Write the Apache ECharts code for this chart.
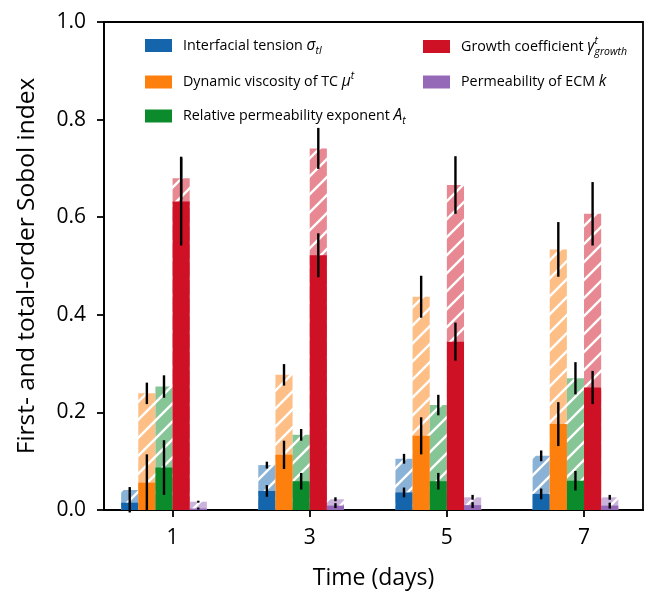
<!DOCTYPE html>
<html>
<head>
<meta charset="utf-8">
<script src="https://cdn.jsdelivr.net/npm/echarts@6/dist/echarts.min.js"></script>
<style>
html, body { margin: 0; padding: 0; background: #fff; }
#box { width: 653px; height: 591px; }
</style>
</head>
<body>
<div id="box"></div>
<script>
const days = [1, 3, 5, 7];
const paramNames = ['Interfacial tension', 'Dynamic viscosity of TC', 'Relative permeability exponent', 'Growth coefficient', 'Permeability of ECM'];
const paramSymbols = ['{i|σ}{sub|tl}', '{i|μ}{sup|t}', '{i|A}{sub|t}', '{i|γ}{supz|t}{sub|growth}', '{i|k}'];
const colors = ['#1565ad', '#fd7f0e', '#0b8b2c', '#cf1126', '#9669b8'];

// first-order indices, one row per parameter
const firstOrder = [
    [0.015, 0.039, 0.036, 0.033],
    [0.056, 0.113, 0.152, 0.176],
    [0.087, 0.059, 0.059, 0.060],
    [0.632, 0.522, 0.345, 0.251],
    [0.003, 0.009, 0.010, 0.009]
];
const firstErr = [
    [0.020, 0.012, 0.010, 0.011],
    [0.058, 0.029, 0.038, 0.045],
    [0.056, 0.017, 0.017, 0.020],
    [0.090, 0.045, 0.039, 0.034],
    [0.002, 0.005, 0.006, 0.006]
];
// total-order indices
const totalOrder = [
    [0.041, 0.092, 0.105, 0.111],
    [0.239, 0.277, 0.437, 0.534],
    [0.253, 0.154, 0.215, 0.270],
    [0.680, 0.741, 0.666, 0.607],
    [0.017, 0.022, 0.026, 0.026]
];
const totalErr = [
    [0.006, 0.007, 0.010, 0.011],
    [0.022, 0.022, 0.043, 0.056],
    [0.023, 0.012, 0.021, 0.033],
    [0.044, 0.042, 0.059, 0.065],
    [0.002, 0.004, 0.005, 0.005]
];

const FONT = 'Open Sans';
const barW = 0.25;

function lighten(hex, a) {
    const n = parseInt(hex.slice(1), 16);
    const c = [n >> 16, (n >> 8) & 255, n & 255].map(v => Math.round(v * a + 255 * (1 - a)));
    return 'rgb(' + c.join(',') + ')';
}

function hatch(color) {
    const s = 18;
    const cv = document.createElement('canvas');
    cv.width = s; cv.height = s;
    const g = cv.getContext('2d');
    g.fillStyle = lighten(color, 0.5);
    g.fillRect(0, 0, s, s);
    g.strokeStyle = '#fff';
    g.lineWidth = 2.4;
    g.beginPath();
    g.moveTo(-s, s); g.lineTo(s, -s);
    g.moveTo(0, s); g.lineTo(s, 0);
    g.moveTo(0, 2 * s); g.lineTo(2 * s, 0);
    g.stroke();
    return { image: cv, repeat: 'repeat' };
}

function barRender(fill) {
    return function (p, api) {
        const x = api.value(0), v = api.value(1);
        const a = api.coord([x - barW / 2, 0]);
        const b = api.coord([x + barW / 2, v]);
        return {
            type: 'rect',
            shape: { x: a[0], y: b[1], width: b[0] - a[0], height: a[1] - b[1] },
            style: { fill: fill }
        };
    };
}

const series = [];
const errData = [];
paramNames.forEach((name, i) => {
    const off = (i - 2.5) * barW;
    series.push({
        name: name + ' total',
        type: 'custom',
        z: 2,
        silent: true,
        encode: { x: 0, y: 1 },
        data: days.map((d, j) => [d + off, totalOrder[i][j]]),
        renderItem: barRender(hatch(colors[i]))
    });
    series.push({
        name: name,
        type: 'custom',
        z: 3,
        silent: true,
        itemStyle: { color: colors[i] },
        encode: { x: 0, y: 1 },
        data: days.map((d, j) => [d + off, firstOrder[i][j]]),
        renderItem: barRender(colors[i])
    });
    days.forEach((d, j) => {
        errData.push([d + off, totalOrder[i][j] - totalErr[i][j], totalOrder[i][j] + totalErr[i][j]]);
        errData.push([d + off, firstOrder[i][j] - firstErr[i][j], firstOrder[i][j] + firstErr[i][j]]);
    });
});
series.push({
    name: 'err',
    type: 'custom',
    z: 5,
    silent: true,
    encode: { x: 0, y: [1, 2] },
    data: errData,
    renderItem: function (p, api) {
        const a = api.coord([api.value(0), api.value(1)]);
        const b = api.coord([api.value(0), api.value(2)]);
        return {
            type: 'line',
            shape: { x1: a[0], y1: a[1], x2: b[0], y2: b[1] },
            style: { stroke: '#000', lineWidth: 2.4 }
        };
    }
});

const legendText = {
    color: '#000',
    fontFamily: FONT,
    fontSize: 14.3,
    height: 22,
    padding: [0, 0, 0, 6],
    rich: {
        n: { fontFamily: FONT, fontSize: 14.3, lineHeight: 22, color: '#000' },
        i: { fontFamily: FONT, fontSize: 15.5, fontStyle: 'italic', lineHeight: 22, color: '#000' },
        sub: { fontFamily: FONT, fontSize: 10.5, fontStyle: 'italic', lineHeight: 13, verticalAlign: 'bottom', color: '#000' },
        sup: { fontFamily: FONT, fontSize: 10.5, fontStyle: 'italic', lineHeight: 13, verticalAlign: 'top', color: '#000' },
        supz: { fontFamily: FONT, fontSize: 10.5, fontStyle: 'italic', lineHeight: 13, verticalAlign: 'top', width: 0.1, color: '#000' }
    }
};
// legend slots: column left edge and top
const legendCols = [145, 145, 145, 423, 423];
const legendTops = [37.5, 71, 108, 35.5, 74];

const chart = echarts.init(document.getElementById('box'));
chart.setOption({
    animation: false,
    grid: {
        left: 104, right: 10, top: 22, bottom: 81,
        show: true, borderColor: '#000', borderWidth: 1.8,
        outerBoundsMode: 'none'
    },
    legend: paramNames.map((name, i) => ({
        left: legendCols[i],
        top: legendTops[i],
        padding: 0,
        icon: 'rect',
        itemWidth: 27,
        itemHeight: 13,
        selectedMode: false,
        data: [name],
        textStyle: legendText,
        formatter: n => '{n|' + n + ' }' + paramSymbols[i]
    })),
    xAxis: {
        type: 'value',
        min: 0,
        max: 7.86,
        name: 'Time (days)',
        nameLocation: 'middle',
        nameGap: 57,
        nameTextStyle: { fontFamily: FONT, fontSize: 23, color: '#000' },
        axisLine: { show: true, onZero: false, lineStyle: { color: '#000', width: 1.8 } },
        axisTick: { show: true, customValues: days, length: 7, lineStyle: { color: '#000', width: 1.8 } },
        axisLabel: { customValues: days, margin: 18, fontFamily: FONT, fontSize: 21, color: '#000' },
        splitLine: { show: false }
    },
    yAxis: {
        type: 'value',
        min: 0,
        max: 1,
        interval: 0.2,
        name: 'First- and total-order Sobol index',
        nameLocation: 'middle',
        nameGap: 64,
        nameTextStyle: { fontFamily: FONT, fontSize: 24.5, color: '#000' },
        axisLine: { show: true, lineStyle: { color: '#000', width: 1.8 } },
        axisTick: { show: true, length: 7, lineStyle: { color: '#000', width: 1.8 } },
        axisLabel: { margin: 18, fontFamily: FONT, fontSize: 21, color: '#000', formatter: v => v.toFixed(1) },
        splitLine: { show: false }
    },
    series: series
});
</script>
</body>
</html>
